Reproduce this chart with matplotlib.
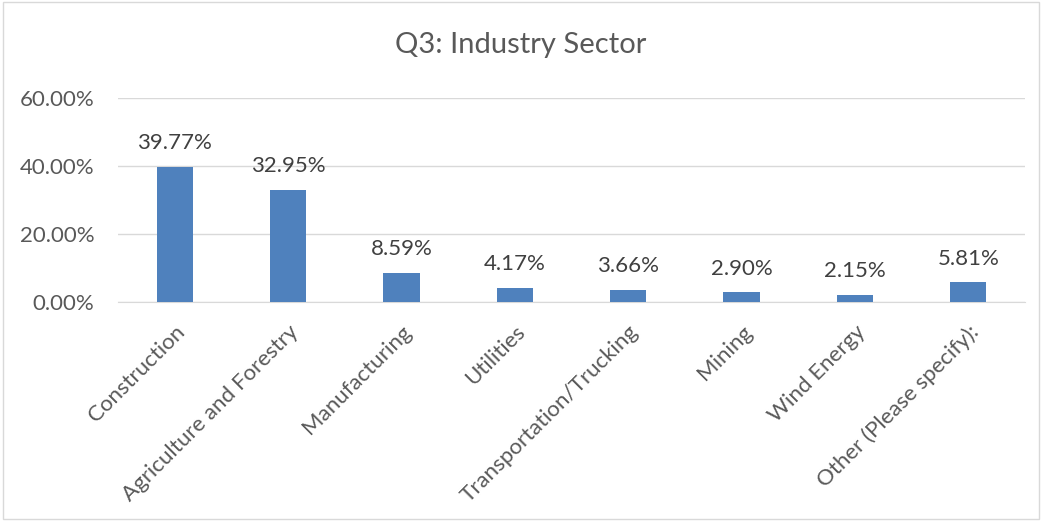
import matplotlib
matplotlib.use("Agg")
import matplotlib.pyplot as plt
from matplotlib.patches import Rectangle
from matplotlib.ticker import FuncFormatter

categories = ["Construction", "Agriculture and Forestry", "Manufacturing", "Utilities",
              "Transportation/Trucking", "Mining", "Wind Energy", "Other (Please specify):"]
values = [39.77, 32.95, 8.59, 4.17, 3.66, 2.90, 2.15, 5.81]
yticks = [0, 20, 40, 60]

plt.rcParams['font.family'] = ['Lato', 'DejaVu Sans']
text_color = '#595959'

fig = plt.figure(figsize=(10.42, 5.21), dpi=100)
fig.patches.append(Rectangle((0.003, 0.003), 0.994, 0.994, transform=fig.transFigure,
                             fill=False, edgecolor='#d9d9d9', linewidth=1))
ax = fig.add_axes([118/1042, 1-302/521, (1025-118)/1042, (302-98)/521])

x = list(range(len(categories)))
bars = ax.bar(x, values, width=0.32, color='#4f81bd', zorder=3)
for xi, v in zip(x, values):
    ax.text(xi, v + 4.0, f"{v:.2f}%", ha='center', va='bottom', fontsize=16, color='#404040')

ax.set_xlim(-0.5, len(categories) - 0.5)
ax.set_ylim(0, 60)
ax.set_yticks(yticks)
ax.yaxis.set_major_formatter(FuncFormatter(lambda v, p: f"{v:.2f}%"))
ax.grid(axis='y', color='#d9d9d9', linewidth=1, zorder=0)
for s in ['top', 'right', 'left']:
    ax.spines[s].set_visible(False)
ax.spines['bottom'].set_color('#d9d9d9')
ax.tick_params(axis='both', length=0, labelsize=16, colors=text_color)
ax.tick_params(axis='y', pad=17)
ax.set_xticks(x)
ax.set_xticklabels(categories, rotation=45, ha='right', rotation_mode='anchor')
ax.tick_params(axis='x', pad=14)

fig.text(0.5, 1-45/521, "Q3: Industry Sector", ha='center', va='center', fontsize=21, color=text_color)

fig.savefig("out.png", dpi=100)
